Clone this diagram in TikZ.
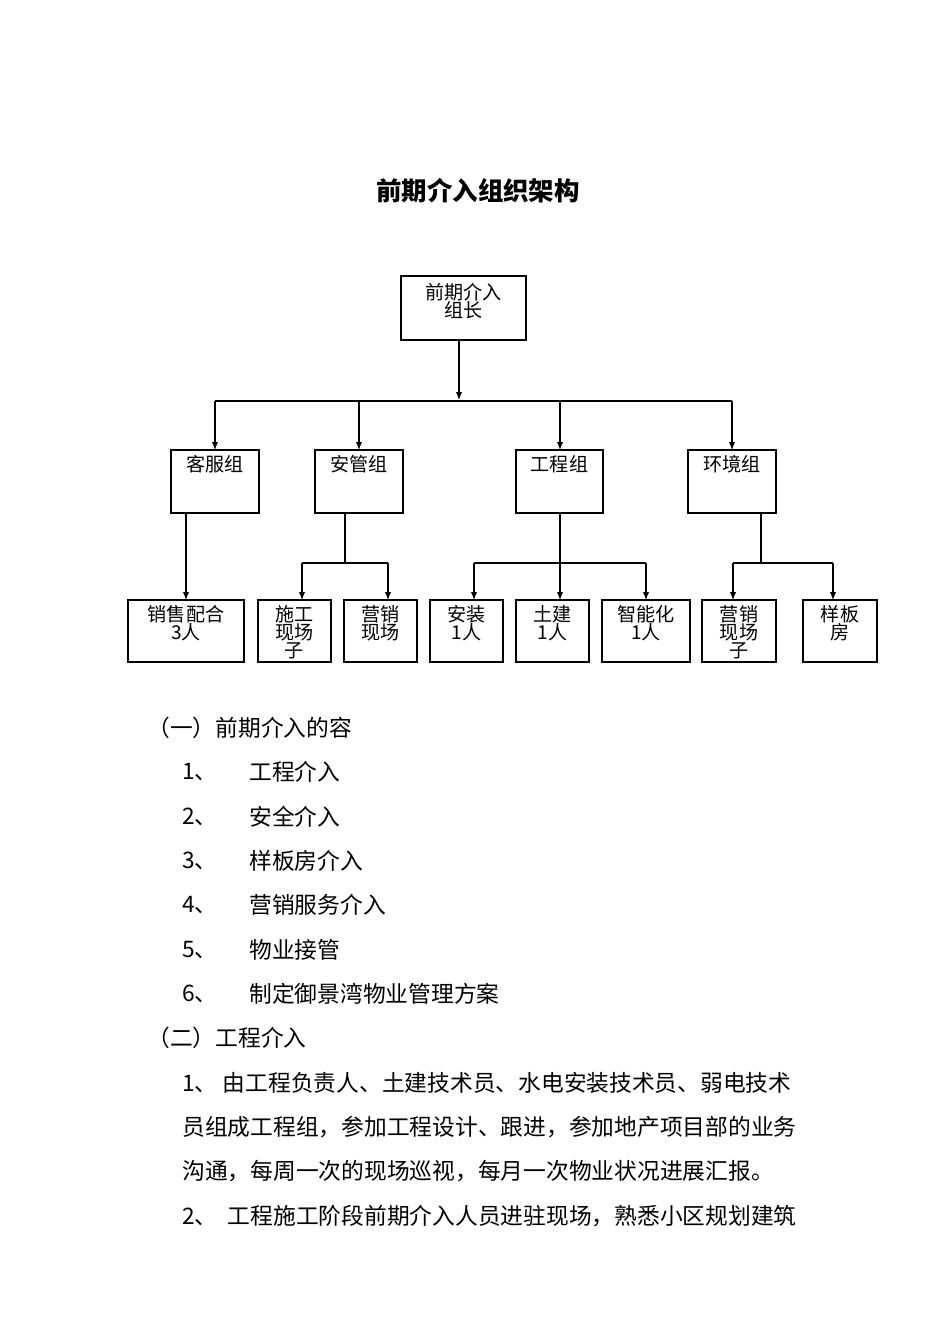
\documentclass[tikz,border=0pt]{standalone}
\usepackage{fontspec}
\setmainfont{Noto Sans CJK SC}
\usetikzlibrary{arrows.meta,positioning}
\begin{document}
\begin{tikzpicture}[x=0.0221cm,y=-0.0221cm,
    boxtxt/.style={font=\fontsize{12}{11.5}\selectfont,align=center,anchor=north,inner sep=0pt},
    line/.style={line width=0.7pt},
    arr/.style={line width=0.7pt,-{Latex[length=5pt,width=4pt]}},
    body/.style={font=\fontsize{14.3}{16}\selectfont,anchor=west,inner sep=0pt}]
  \useasboundingbox (0,0) rectangle (950,1344);
  \node[font=\fontsize{16}{18}\selectfont\bfseries] (title) at (478,191) {前期介入组织架构};
  % boxes
  \draw[line] (401,276) rectangle (526,340);
  \coordinate (leadS) at (459,340);
  \node[boxtxt] (lead) at (463.5,283) {前期介入\\组长};
  % level 2
  \foreach \n/\l/\r/\t in {kf/171/259/客服组,ag/315/403/安管组,gc/516/603/工程组,hj/688/776/环境组}{
    \draw[line] (\l,450) rectangle (\r,513);
    \node[boxtxt] (\n) at ({(\l+\r)/2},455) {\t};
  }
  % level 3
  \foreach \n/\l/\r/\t in {xs/128/244/{销售配合\\3人},sg/258/331/{施工\\现场\\子},yx/344/417/{营销\\现场},az/430/503/{安装\\1人},tj/516/589/{土建\\1人},zn/602/690/{智能化\\1人},yy/702/776/{营销\\现场\\子},yb/803/877/{样板\\房}}{
    \draw[line] (\l,600) rectangle (\r,662);
    \node[boxtxt] (\n) at ({(\l+\r)/2},605) {\t};
  }
  % connectors
  \draw[arr] (leadS) -- (459,400);
  \draw[line] (215,401) -- (732,401);
  \foreach \x in {215,359,560,732}
    \draw[arr] (\x,401) -- (\x,450);
  \draw[arr] (186,513) -- (186,600);
  \draw[line] (345,513) -- (345,563) (302,563) -- (388,563);
  \draw[arr] (302,563) -- (302,600);
  \draw[arr] (388,563) -- (388,600);
  \draw[line] (560,513) -- (560,563) (474,563) -- (646,563);
  \foreach \x in {474,560,646}
    \draw[arr] (\x,563) -- (\x,600);
  \draw[line] (761,513) -- (761,563) (733,563) -- (833,563);
  \draw[arr] (733,563) -- (733,600);
  \draw[arr] (833,563) -- (833,600);
  % text
  \node[body] (s1) at (147,728) {（一）前期介入的容};
  \foreach \y/\k/\t in {772/1/工程介入,817/2/安全介入,861/3/样板房介入,905/4/营销服务介入,950/5/物业接管,994/6/制定御景湾物业管理方案}{
    \node[body] at (182,\y) {\k、};
    \node[body] at (249,\y) {\t};
  }
  \node[body] (s2) at (147,1038) {（二）工程介入};
  \node[body] at (182,1083) {1、\ 由工程负责人、土建技术员、水电安装技术员、弱电技术};
  \node[body] at (182,1127) {员组成工程组，参加工程设计、跟进，参加地产项目部的业务};
  \node[body] at (182,1171) {沟通，每周一次的现场巡视，每月一次物业状况进展汇报。};
  \node[body] at (182,1216) {2、\ \ 工程施工阶段前期介入人员进驻现场，熟悉小区规划建筑};
\end{tikzpicture}
\end{document}
